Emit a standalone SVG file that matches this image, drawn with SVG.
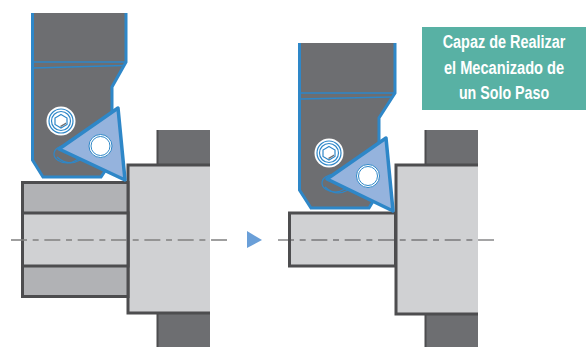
<svg xmlns="http://www.w3.org/2000/svg" width="588" height="347" viewBox="0 0 588 347">
<style>
.h{fill:#6d6e71;stroke:#2e87c8;stroke-width:3;stroke-linejoin:miter}
.l{fill:none;stroke:#2e87c8;stroke-width:1.5}
.t{fill:#95b3dd;stroke:#2e87c8;stroke-width:3.5;stroke-linejoin:round}
.e{fill:none;stroke:#2e87c8;stroke-width:1.2}
.w{fill:#fff;stroke:#2e87c8;stroke-width:1}
.o{stroke:#4d4d4f;stroke-width:3}
.s{stroke:#4d4d4f;stroke-width:2;fill:none}
.d{fill:#6d6e71}
.f{fill:#d0d1d3}
.g{fill:#b1b2b5}
.c{fill:none;stroke-dasharray:16 5.670 6 5.670}
.c1{stroke:#808080;stroke-width:1.600}
.c2{stroke:#4d4d4f;stroke-width:1.100}
.x{fill:#fff;font-family:"Liberation Sans",Arial,sans-serif;font-weight:700;font-size:19px;text-anchor:middle}
</style>
<g id="workpiece-left">
<rect class="d" x="157" y="130" width="53" height="35"/>
<rect class="d" x="157" y="313" width="53" height="34"/>
<path d="M157.500 130V165M157.500 313V347" class="s"/>
<rect x="128" y="165" width="82" height="148" class="f"/>
<path d="M210 165H128V313H210" fill="none" class="o"/>
<rect x="22.500" y="182.500" width="105.500" height="114" class="g o"/>
<rect x="22.500" y="213" width="105.500" height="53" class="f o"/>
</g>
<g id="tool-left">
<path class="h" d="M32.500 13V160L43 177H101L107 168L112 115V87L126 62V13"/>
<path class="l" d="M33 62H126M33 68L123 65.500"/>
<ellipse class="e" cx="67" cy="154" rx="13" ry="9"/>
<path class="e" d="M57 157Q68 167 80 160"/>
<circle cx="61" cy="121" r="14.500" fill="#fff"/>
<circle class="e" cx="61" cy="121" r="12"/>
<circle class="e" cx="61" cy="121" r="9.500"/>
<path class="e" d="M61 114.500L67 118V124.500L61 128L55 124.500V118Z" style="fill:#fff"/>
<path d="M60 126L66 122.500V124L61 127Z" fill="#6d6e71"/>
<path class="t" d="M118 108L125 180L59 149Z"/>
<circle class="w" cx="100.500" cy="146" r="11.500"/>
<circle class="w" cx="100.500" cy="146" r="9.500"/>
</g>
<g id="workpiece-right">
<rect class="d" x="425" y="130" width="53" height="35"/>
<rect class="d" x="425" y="314" width="53" height="33"/>
<path d="M425.500 130V165M425.500 314V347" class="s"/>
<rect x="396" y="165" width="82" height="149" class="f"/>
<path d="M478 165H396V314H478" fill="none" class="o"/>
<rect x="289.500" y="213" width="106" height="53" class="f o"/>
</g>
<g id="tool-right">
<path class="h" d="M299.500 43V190L311 208H369L375 198L379 145V118L395 93V43"/>
<path class="l" d="M300 93H395M300 99L391 97"/>
<ellipse class="e" cx="335" cy="183" rx="13" ry="9"/>
<path class="e" d="M325 187Q336 197 348 190"/>
<circle cx="329" cy="153" r="14.500" fill="#fff"/>
<circle class="e" cx="329" cy="153" r="12"/>
<circle class="e" cx="329" cy="153" r="9.500"/>
<path class="e" d="M329 146.500L335 150V156.500L329 160L323 156.500V150Z" style="fill:#fff"/>
<path d="M328 158L334 154.500V156L329 159Z" fill="#6d6e71"/>
<path class="t" d="M386 138L393 211L327 179Z"/>
<circle class="w" cx="368" cy="176" r="11.500"/>
<circle class="w" cx="368" cy="176" r="9.500"/>
</g>
<g id="connectors">
<path class="c c1" d="M11 240H227"/>
<path class="c c2" d="M278 240H494"/>
<path d="M247 231L262 240L247 248Z" fill="#6a9fd8"/>
</g>
<g id="label">
<rect x="422" y="27" width="164" height="83" fill="#58b1a4"/>
<text class="x" transform="translate(504 48) scale(.76 1)">Capaz de Realizar</text>
<text class="x" transform="translate(504 74) scale(.77 1)">el Mecanizado de</text>
<text class="x" transform="translate(504 99) scale(.75 1)">un Solo Paso</text>
</g>
</svg>
